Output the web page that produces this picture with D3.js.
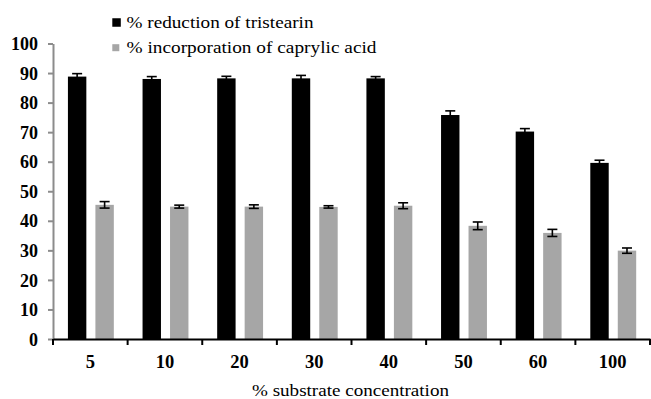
<!DOCTYPE html>
<html><head><meta charset="utf-8">
<script src="https://cdn.jsdelivr.net/npm/d3@7"></script>
<style>
html,body{margin:0;padding:0;background:#fff;}
svg{display:block;}
text{font-family:"Liberation Serif","Times New Roman",serif;}
</style></head>
<body><svg id="chart" width="651" height="399"></svg>
<script>
const categories = ["5","10","20","30","40","50","60","100"];
const seriesNames = ["% reduction of tristearin","% incorporation of caprylic acid"];
const reduction = [88.8, 88.0, 88.2, 88.2, 88.2, 75.8, 70.2, 59.6];
const reductionErr = [1.0, 0.8, 0.7, 1.0, 0.6, 1.4, 1.0, 0.9];
const incorporation = [45.4, 44.8, 44.8, 44.7, 45.1, 38.3, 35.9, 29.9];
const incorporationErr = [1.1, 0.5, 0.6, 0.4, 1.0, 1.3, 1.2, 0.9];
const yTicks = [0,10,20,30,40,50,60,70,80,90,100];
const colors = ["#000000", "#a6a6a6"];
const FONT = "Liberation Serif";

const svg = d3.select("#chart");
const x0 = d3.scaleBand().domain(categories).range([53, 650]);
const bw = x0.bandwidth();
const x1 = d3.scaleBand().domain([0,1]).range([0.2*bw, 0.815*bw]).paddingInner(0.33);
const y = d3.scaleLinear().domain([0,100]).range([339, 43.5]);

const data = categories.map((c,i)=>[
  {c, s:0, v:reduction[i], e:reductionErr[i]},
  {c, s:1, v:incorporation[i], e:incorporationErr[i]}
]).flat();

// bars
svg.append("g").selectAll("rect").data(data).join("rect")
  .attr("x", d=>x0(d.c)+x1(d.s))
  .attr("width", x1.bandwidth())
  .attr("y", d=>y(d.v))
  .attr("height", d=>y(0)-y(d.v))
  .attr("fill", d=>colors[d.s]);

// error bars
const eg = svg.append("g").attr("stroke","#000").attr("stroke-width",1.6);
data.forEach(d=>{
  const cx = x0(d.c)+x1(d.s)+x1.bandwidth()/2;
  eg.append("line").attr("x1",cx).attr("x2",cx).attr("y1",y(d.v+d.e)).attr("y2",y(d.v-d.e));
  eg.append("line").attr("x1",cx-5).attr("x2",cx+5).attr("y1",y(d.v+d.e)).attr("y2",y(d.v+d.e));
  eg.append("line").attr("x1",cx-5).attr("x2",cx+5).attr("y1",y(d.v-d.e)).attr("y2",y(d.v-d.e));
});

// y axis
const yAxis = svg.append("g").attr("transform","translate(53,0)")
  .call(d3.axisLeft(y).tickValues(yTicks).tickSize(5).tickPadding(10).tickSizeOuter(0));
yAxis.attr("font-family", null);
yAxis.select(".domain").attr("stroke","#8c8c8c").attr("stroke-width",2);
yAxis.selectAll(".tick line").attr("stroke","#8c8c8c").attr("stroke-width",2);
yAxis.selectAll(".tick text").style("font-family",FONT).attr("font-weight","bold")
  .attr("font-size","18px").attr("fill","#000").attr("dy","0.34em");

// x axis
const xAxis = svg.append("g").attr("transform","translate(0,339)")
  .call(d3.axisBottom(x0).tickSize(0).tickPadding(16).tickSizeOuter(0));
xAxis.attr("font-family", null);
xAxis.select(".domain").attr("stroke","#000").attr("stroke-width",2);
xAxis.selectAll(".tick text").style("font-family",FONT).attr("font-weight","bold")
  .attr("font-size","18.5px").attr("fill","#000");
// boundary ticks
const bounds = categories.map(c=>x0(c)).concat([x0.range()[1]]);
xAxis.append("g").selectAll("line").data(bounds).join("line")
  .attr("x1",d=>d).attr("x2",d=>d).attr("y1",0).attr("y2",6)
  .attr("stroke","#000").attr("stroke-width",2);

// x axis title
svg.append("text").attr("x",252).attr("y",396)
  .style("font-family",FONT).attr("font-size","17px").attr("fill","#000")
  .attr("textLength",197).attr("lengthAdjust","spacingAndGlyphs")
  .text("% substrate concentration");

// legend
const lg = svg.append("g");
const legendRows = [{cy:22.5, size:8.5, base:27.7, len:187}, {cy:47.7, size:7, base:53.3, len:250}];
seriesNames.forEach((n,i)=>{
  const r = legendRows[i];
  lg.append("rect").attr("x",112.3).attr("y",r.cy-r.size/2).attr("width",r.size).attr("height",r.size).attr("fill",colors[i]);
  lg.append("text").attr("x",126.5).attr("y",r.base).style("font-family",FONT)
    .attr("font-size","16.5px").attr("fill","#000")
    .attr("textLength",r.len).attr("lengthAdjust","spacingAndGlyphs").text(n);
});
</script></body></html>
